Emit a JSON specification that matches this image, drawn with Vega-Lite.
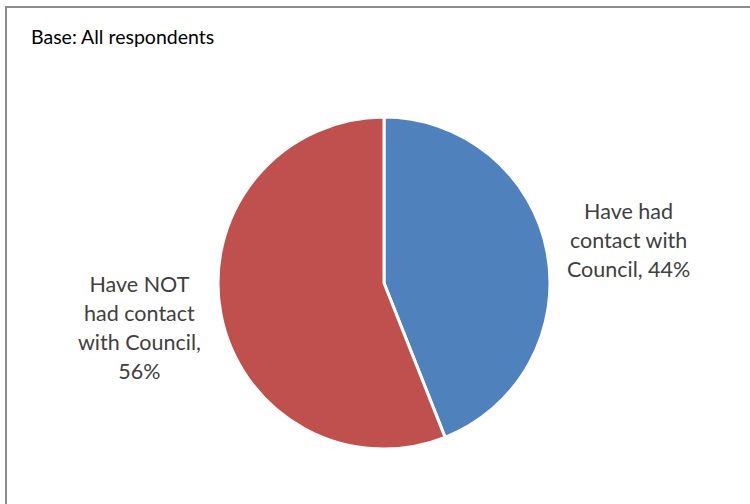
{
  "$schema": "https://vega.github.io/schema/vega-lite/v6.json",
  "width": 756,
  "height": 552,
  "padding": {"left": 6, "top": 7, "right": 0, "bottom": 0},
  "autosize": {"type": "none"},
  "background": "white",
  "view": {"stroke": "#8c8c8c", "strokeWidth": 2, "fill": "white"},
  "title": {
    "text": "Base: All respondents",
    "anchor": "start",
    "frame": "group",
    "orient": "top",
    "offset": -56,
    "dx": 25,
    "font": "Lato",
    "fontSize": 19.5,
    "fontWeight": "normal",
    "color": "#000000",
    "baseline": "alphabetic"
  },
  "data": {
    "values": [
      {"idx": 1, "category": "Have had contact with Council", "pct": 44, "labelA": "Have had\ncontact with\nCouncil, 44%", "labelB": ""},
      {"idx": 2, "category": "Have NOT had contact with Council", "pct": 56, "labelA": "", "labelB": "Have NOT\nhad contact\nwith Council,\n56%"}
    ]
  },
  "encoding": {
    "theta": {"field": "pct", "type": "quantitative", "stack": true},
    "order": {"field": "idx", "type": "quantitative"}
  },
  "layer": [
    {
      "mark": {"type": "arc", "outerRadius": 166, "stroke": "white", "strokeWidth": 3},
      "encoding": {
        "color": {
          "field": "category",
          "type": "nominal",
          "scale": {
            "domain": ["Have had contact with Council", "Have NOT had contact with Council"],
            "range": ["#4F81BD", "#C0504D"]
          },
          "legend": null
        }
      }
    },
    {
      "mark": {
        "type": "text",
        "radius": 249,
        "dy": -23,
        "align": "center",
        "baseline": "middle",
        "lineBreak": "\n",
        "lineHeight": 29,
        "font": "Lato",
        "fontSize": 21.5,
        "color": "#404040"
      },
      "encoding": {
        "text": {"field": "labelA", "type": "nominal"}
      }
    },
    {
      "mark": {
        "type": "text",
        "radius": 249,
        "dy": -44,
        "align": "center",
        "baseline": "middle",
        "lineBreak": "\n",
        "lineHeight": 29,
        "font": "Lato",
        "fontSize": 21.5,
        "color": "#404040"
      },
      "encoding": {
        "text": {"field": "labelB", "type": "nominal"}
      }
    }
  ]
}
